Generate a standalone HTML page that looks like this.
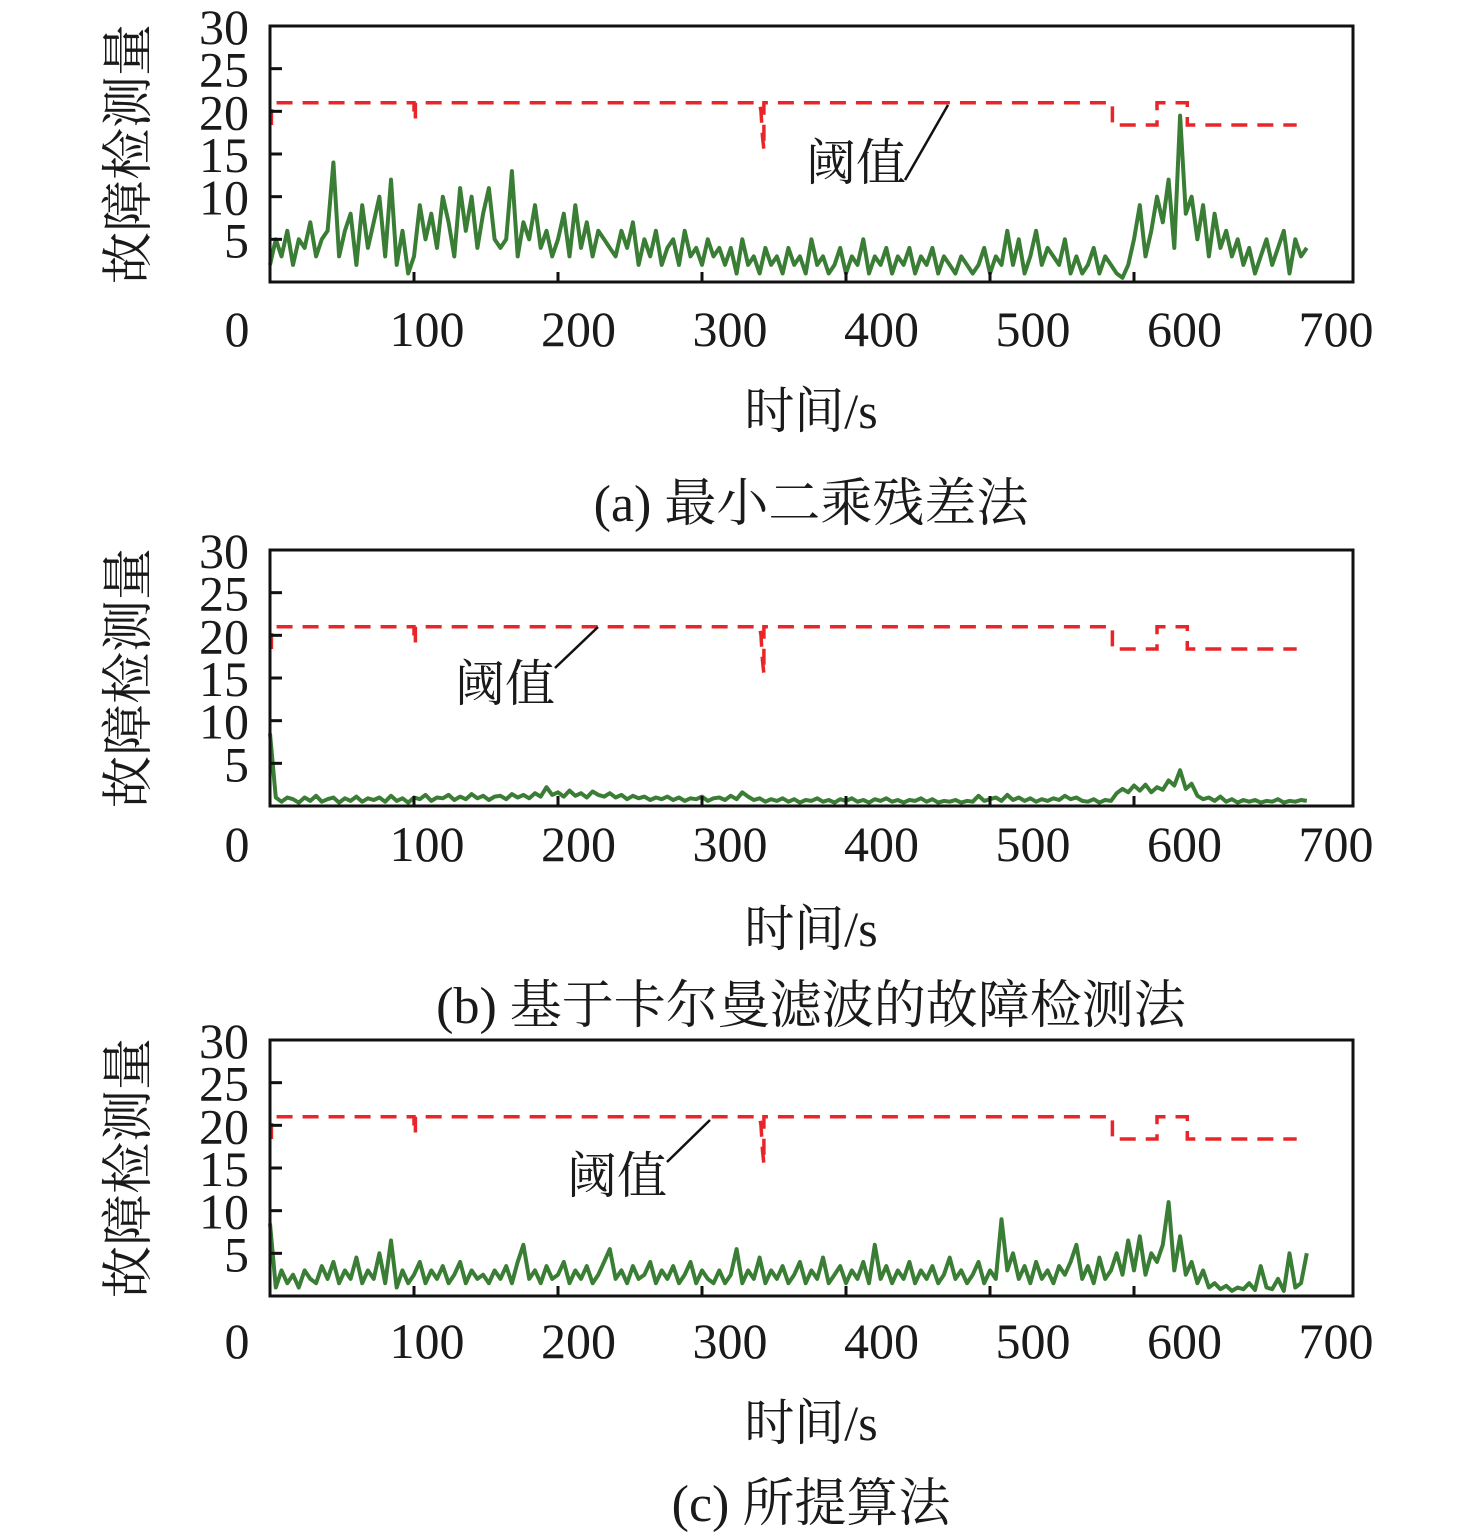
<!DOCTYPE html>
<html><head><meta charset="utf-8"><style>
html,body{margin:0;padding:0;background:#fff;}
svg{display:block;}
text{font-family:"Liberation Serif","Noto Serif CJK SC","Noto Sans CJK SC",serif;fill:#1a1a1a;}
</style></head>
<body>
<svg id="chart" width="1476" height="1540" viewBox="0 0 1476 1540" xmlns="http://www.w3.org/2000/svg"></svg>
<script>
const xTicks=[100,200,300,400,500,600];
const xTickLabels=["0","100","200","300","400","500","600","700"];
const yTicks=[5,10,15,20,25,30];
const yTickLabels=["5","10","15","20","25","30"];
const sampleStep=4;
const thrT=[1,1,2,100,100,101,101,340,341,342,343,343,585,585,616,616,637,637,713];
const thrV=[18.4,20,21,21,20,19,21,21,20,17,15.5,21,21,18.4,18.4,21,21,18.4,18.4];
const seriesA=[2,5,3,6,2,5,4,7,3,5, 6,14,3,6,8,2,9,4,7,10, 3,12,2,6,1,3,9,5,8,4, 10,7,3,11,6,10,4,8,11,5, 4,5,13,3,7,5,9,4,6,3, 5,8,3,9,4,7,3,6,5,4, 3,6,4,7,2,5,3,6,2,4, 5,2,6,3,4,2,5,3,4,2, 4,1,5,2,3,1,4,2,3,1, 4,2,3,1,5,2,3,1,2,4, 1,3,2,5,1,3,2,4,1,3, 2,4,1,3,2,4,1,3,2,1, 3,2,1,2,4,1,3,2,6,2, 5,1,3,6,2,4,3,2,5,1, 3,1,2,4,1,3,2,1,0.5,2, 5,9,3,6,10,7,12,4,19.5,8, 10,5,9,3,8,4,6,3,5,2, 4,1,3,5,2,4,6,1,5,3, 4];
const seriesB=[8.5,1,0.5,1,0.8,0.4,1,0.6,1.2,0.5, 0.8,1,0.4,0.9,0.6,1.1,0.5,0.9,0.7,1, 0.5,1.2,0.6,0.9,0.4,1,0.8,1.3,0.6,1, 0.9,1.3,0.7,1.1,0.8,1.4,0.9,1.2,0.7,1.1, 1.2,0.8,1.4,1,1.3,0.9,1.5,1.1,2.2,1.3, 1.6,1.1,1.8,1.2,1.5,1,1.7,1.3,1.1,1.5, 1,1.3,0.8,1.2,0.9,1.1,0.7,1,0.8,1.1, 0.7,1,0.6,0.9,0.8,1.1,0.6,0.9,1,0.7, 1.2,0.8,1.6,1.1,0.7,0.9,0.5,0.8,0.6,0.9, 0.5,0.8,0.4,0.7,0.6,0.9,0.5,0.7,0.4,0.8, 0.6,0.9,0.5,0.7,0.4,0.8,0.6,0.9,0.5,0.7, 0.4,0.7,0.6,0.9,0.5,0.8,0.4,0.6,0.5,0.7, 0.4,0.6,0.5,1.2,0.6,0.8,1,0.6,1.3,0.7, 1,0.6,0.9,0.5,0.8,0.6,0.9,0.7,1.2,0.8, 1,0.6,0.5,0.8,0.4,0.7,0.6,1.5,2,1.6, 2.4,1.8,2.5,1.6,2.2,1.9,3,2.4,4.2,2, 2.6,1.2,0.8,1,0.6,1.1,0.5,0.8,0.4,0.7, 0.5,0.7,0.4,0.6,0.5,0.8,0.4,0.6,0.5,0.7, 0.6];
const seriesC=[8.5,1,3,1.5,2.5,1,3,2,1.5,3.5, 2,4,1.5,3,2,4.5,1.5,3,2,5, 1.5,6.5,1,3,1.5,2.5,4,1.5,3,2, 3.5,1.5,2.5,4,1.5,3,2,2.5,1.5,3, 2,3.5,1.5,4,6,2,3,1.5,3.5,2, 2.5,4,1.5,3,2,3.5,1.5,2.5,4,5.5, 2,3,1.5,3.5,2,2.5,4,1.5,3,2, 3.5,1.5,2.5,4,1.5,3,2,1.5,3,1.5, 2.5,5.5,1.5,3,2,4.5,1.5,3,2,3.5, 1.5,2.5,4,1.5,3,2,4.5,1.5,2.5,3.5, 1.5,3,2,4,1.5,6,2,3.5,1.5,3, 2,4,1.5,3,2,3.5,1.5,2.5,4.5,2, 3,1.5,2.5,4,1.5,3,2,9,3,5, 2,3.5,1.5,4,2,3,1.5,3.5,2.5,4, 6,2,3.5,1.5,4.5,2,3,5,2.5,6.5, 3,7,2.5,5,4,6,11,3,7,2.5, 4,1.5,3,1,1.5,0.8,1.2,0.6,1,0.8, 1.5,0.7,3.5,1,0.8,2,0.6,5,1,1.5, 5];
const captions=["(a) 最小二乘残差法","(b) 基于卡尔曼滤波的故障检测法","(c) 所提算法"];

const NS="http://www.w3.org/2000/svg";
const svg=document.getElementById('chart');
function mk(tag,attrs,parent){const e=document.createElementNS(NS,tag);for(const k in attrs)e.setAttribute(k,attrs[k]);(parent||svg).appendChild(e);return e;}

const panels=[
 {top:26,data:seriesA,xl:328,xt:410,cap:503,lab:[806,162],lead:[905,180,948,105],name:'a'},
 {top:550,data:seriesB,xl:843,xt:928,cap:1005,lab:[455,683],lead:[555,668,598,627],name:'b'},
 {top:1040,data:seriesC,xl:1340,xt:1422,cap:1503,lab:[567,1175],lead:[667,1162,710,1120],name:'c'}
];
const L=270,R=1353,H=256;
const xs=v=>L+1.44*v;
panels.forEach((p,pi)=>{
  const g=mk('g',{});
  
  
  const bot=p.top+H;
  const ys=v=>bot-v*H/30;
  let d='';thrT.forEach((t,i)=>{d+=(i?'L':'M')+xs(t).toFixed(1)+' '+ys(thrV[i]).toFixed(1);});
  const th=mk('path',{d:d,fill:'none',stroke:'#e8262a','stroke-width':3.5,'stroke-dasharray':'16 10'},g);
  
  
  let s='';p.data.forEach((v,i)=>{s+=(i?'L':'M')+xs(i*sampleStep).toFixed(1)+' '+ys(v).toFixed(1);});
  const ln=mk('path',{d:s,fill:'none',stroke:'#3a7d35','stroke-width':4,'stroke-linejoin':'round'},g);
  
  
  const fr=mk('rect',{x:L,y:p.top,width:R-L,height:H,fill:'none',stroke:'#111','stroke-width':3},g);
  
  
  xTicks.forEach(t=>{const tk=mk('line',{x1:xs(t),x2:xs(t),y1:bot,y2:bot-10,stroke:'#111','stroke-width':3},g);
    
    });
  yTicks.slice(0,5).forEach(t=>{const tk=mk('line',{x1:L,x2:L+12,y1:ys(t),y2:ys(t),stroke:'#111','stroke-width':3},g);
    
    });
  yTicks.forEach((t,i)=>{const tx=mk('text',{x:249,y:ys(t)+18,'text-anchor':'end','font-size':50},g);tx.textContent=yTickLabels[i];
    
    });
  xTickLabels.forEach((lb,i)=>{const cx=i===0?237:427+151.5*(i-1);
    const tx=mk('text',{x:cx,y:p.xl+18,'text-anchor':'middle','font-size':50},g);tx.textContent=lb;
    
    });
  const yt=mk('text',{x:0,y:0,'text-anchor':'middle','font-size':52,transform:`translate(146,${p.top+128}) rotate(-90)`},g);yt.textContent='故障检测量';
  
  
  const xt=mk('text',{x:811,y:p.xt+18,'text-anchor':'middle','font-size':50},g);xt.textContent='时间/s';
  
  
  const cp=mk('text',{x:811,y:p.cap+18,'text-anchor':'middle','font-size':52},g);cp.textContent=captions[pi];
  
  
  const lb=mk('text',{x:p.lab[0],y:p.lab[1]+18,'font-size':50},g);lb.textContent='阈值';
  
  
  const ld=mk('line',{x1:p.lead[0],y1:p.lead[1],x2:p.lead[2],y2:p.lead[3],stroke:'#111','stroke-width':2.5},g);
  
  
});
</script>
</body></html>
